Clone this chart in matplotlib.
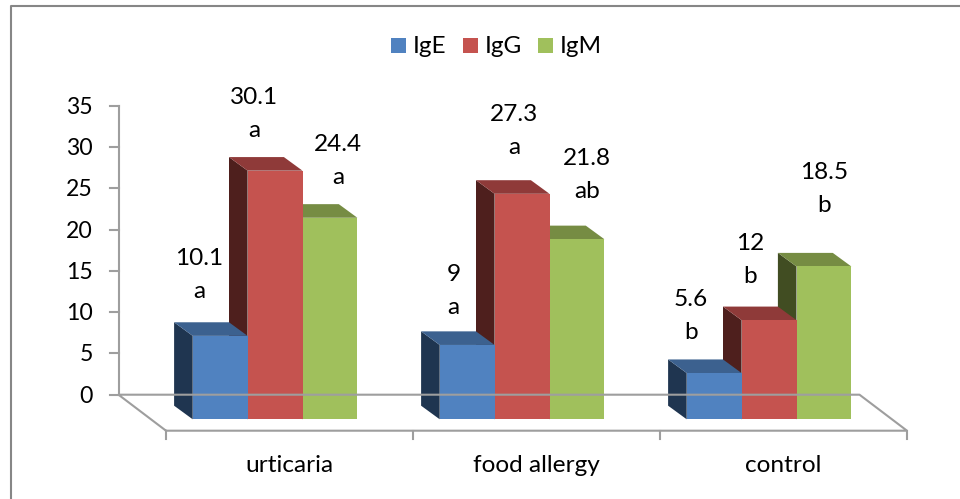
#!/usr/bin/env python3
import matplotlib
matplotlib.use("Agg")
import matplotlib.pyplot as plt
from matplotlib.patches import Polygon, Rectangle

plt.rcParams['font.family'] = ['Lato', 'DejaVu Sans']

# values
categories = ["urticaria", "food allergy", "control"]
series_names = ["IgE", "IgG", "IgM"]
IgE = [10.1, 9, 5.6]
IgG = [30.1, 27.3, 12]
IgM = [24.4, 21.8, 18.5]
IgE_letters = ["a", "a", "b"]
IgG_letters = ["a", "a", "b"]
IgM_letters = ["a", "ab", "b"]
y_ticks = [0, 5, 10, 15, 20, 25, 30, 35]

# colours: front, top, side
colors = [("#5082C0", "#3C618F", "#1F3550"),
          ("#C5534F", "#8F3A39", "#4E1F1D"),
          ("#A0C05C", "#768C43", "#414D22")]
axis_color = "#9E9E9E"
frame_color = "#868686"
font_size = 17.6

# layout in pixels of the 960x499 picture
y_zero = 394.7
px_per_unit = 8.26
depth_x = 18.6
depth_y = 13.6
floor_dx = 47.5
floor_dy = 36
x_floor = 118.5
cat_width = 247
bar_width = 54.9
first_bar = 192.7
bar_base = 419.3

# where the labels sit relative to the top of the bar front (dx, dy of first line)
label_offsets = [[(-21, -77), (-13.5, -70), (-23.5, -74)],
                 [(-21, -73), (-8, -79), (-19, -77)],
                 [(8, -73), (10, -81), (0, -94)]]


def val_y(v):
    return bar_base - v * px_per_unit


fig = plt.figure(figsize=(9.6, 4.99), dpi=100)
ax = fig.add_axes([0, 0, 1, 1])
ax.set_xlim(0, 960)
ax.set_ylim(499, 0)
ax.axis("off")

# outer frame, only top and left are in the crop
ax.plot([10.5, 10.5, 960], [499, 5.5, 5.5], color=frame_color, lw=1.5, solid_capstyle="butt")

# y axis
y_top = y_zero - max(y_ticks) * px_per_unit
ax.plot([x_floor, x_floor], [y_top, y_zero], color=axis_color, lw=1.5)
for t in y_ticks:
    yy = y_zero - t * px_per_unit
    ax.plot([x_floor - 8.5, x_floor], [yy, yy], color=axis_color, lw=1.5)
    ax.text(93, yy + 1.5, str(t), ha="right", va="center", fontsize=16.6, color="black")

# floor
x_front = x_floor + floor_dx
y_front = y_zero + floor_dy
x_end = x_front + cat_width * len(categories)
ax.plot([x_front, x_floor, x_end - floor_dx, x_end, x_front],
        [y_front, y_zero, y_zero, y_front, y_front], color=axis_color, lw=1.5)
for i in range(len(categories) + 1):
    xx = x_front + i * cat_width
    ax.plot([xx, xx], [y_front, y_front + 8.5], color=axis_color, lw=1.5)
for i, c in enumerate(categories):
    ax.text(x_front + (i + 0.5) * cat_width - 0.5, 466, c, ha="center", va="center", fontsize=font_size, color="black")

# bars, right to left so the nearer faces cover the neighbours
all_values = [IgE, IgG, IgM]
all_letters = [IgE_letters, IgG_letters, IgM_letters]
for s in [2, 1, 0]:
    front, top, side = colors[s]
    for i, v in enumerate(all_values[s]):
        x0 = first_bar + i * cat_width + s * bar_width
        x1 = x0 + bar_width
        yt = val_y(v)
        ax.add_patch(Polygon([(x0, bar_base), (x0, yt), (x0 - depth_x, yt - depth_y),
                              (x0 - depth_x, bar_base - depth_y)], closed=True, fc=side, ec="none"))
        ax.add_patch(Polygon([(x0, yt), (x1, yt), (x1 - depth_x, yt - depth_y),
                              (x0 - depth_x, yt - depth_y)], closed=True, fc=top, ec="none"))
        ax.add_patch(Rectangle((x0, yt), bar_width, bar_base - yt, fc=front, ec="none"))

# value labels
for s in range(3):
    for i, v in enumerate(all_values[s]):
        dx, dy = label_offsets[s][i]
        xc = first_bar + i * cat_width + s * bar_width + bar_width / 2 + dx
        yt = val_y(v)
        ax.text(xc, yt + dy, str(v), ha="center", va="center", fontsize=font_size, color="black")
        ax.text(xc, yt + dy + 33, all_letters[s][i], ha="center", va="center", fontsize=font_size, color="black")

# legend
legend_x = [391, 463, 538]
for name, lx, col in zip(series_names, legend_x, colors):
    ax.add_patch(Rectangle((lx, 38), 15, 15, fc=col[0], ec="none"))
    ax.text(lx + 22, 46, name, ha="left", va="center", fontsize=font_size, color="black")

fig.savefig("out.png", dpi=100)
